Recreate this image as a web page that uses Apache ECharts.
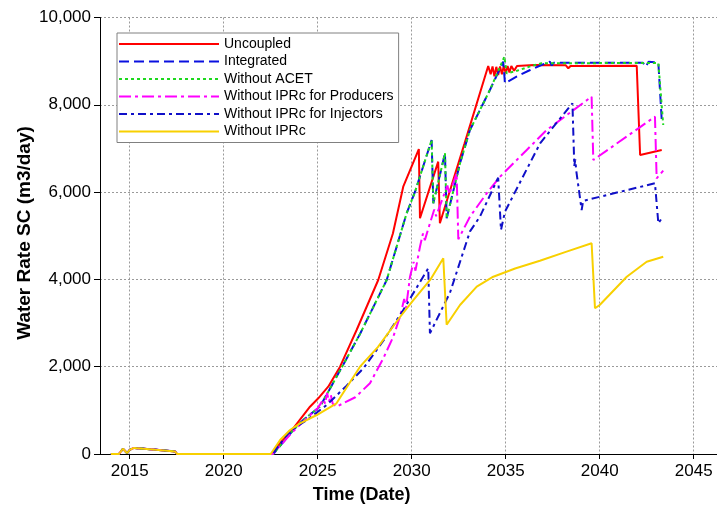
<!DOCTYPE html>
<html>
<head>
<meta charset="utf-8">
<script src="https://cdn.jsdelivr.net/npm/echarts@6/dist/echarts.min.js"></script>
<style>html,body{margin:0;padding:0;background:#fff}#c{width:717px;height:507px}</style>
</head>
<body>
<div id="c"></div>
<script>
// ---- data (years as decimal, water rate m3/day) ----
var seriesNames = ['Uncoupled','Integrated','Without ACET','Without IPRc for Producers','Without IPRc for Injectors','Without IPRc'];
var xTicks = [2015,2020,2025,2030,2035,2040,2045];
var yTicks = [0,2000,4000,6000,8000,10000];

var earlyT = [2014.0, 2014.43, 2014.64, 2014.86, 2015.02, 2015.23, 2016.08, 2017.41, 2017.52];
var earlyV = [0, 0, 120, 20, 100, 140, 110, 60, 0];

var uncoupledT = [2022.55, 2023.0, 2023.7, 2024.59, 2025.03, 2025.56, 2026.19, 2027.07, 2028.22, 2029.0, 2029.55, 2030.38, 2030.44, 2031.41, 2031.5, 2032.8, 2034.07, 2034.2, 2034.3, 2034.4, 2034.5, 2034.6, 2034.7, 2034.8, 2034.9, 2035.0, 2035.1, 2035.2, 2035.3, 2035.45, 2035.6, 2036.5, 2038.2, 2038.33, 2038.45, 2041.97, 2042.15, 2043.3];
var uncoupledV = [0, 250, 589, 1084, 1276, 1542, 2000, 2841, 3986, 5050, 6124, 6987, 5400, 6697, 5285, 7100, 8889, 8700, 8880, 8650, 8870, 8680, 8880, 8700, 8890, 8720, 8890, 8740, 8890, 8780, 8890, 8912, 8905, 8836, 8890, 8896, 6850, 6965];

var integratedT = [2022.64, 2023.7, 2024.23, 2025.12, 2026.3, 2027.25, 2028.67, 2029.73, 2030.18, 2031.06, 2031.15, 2031.77, 2031.86, 2032.57, 2033.1, 2034.16, 2034.87, 2034.96, 2035.6, 2036.3, 2036.9, 2037.35, 2037.45, 2037.55, 2042.3, 2042.45, 2042.6, 2043.12, 2043.3];
var integratedV = [0, 550, 779, 1084, 2000, 2750, 3986, 5514, 6009, 7194, 5743, 6889, 5400, 6660, 7423, 8339, 8988, 8493, 8650, 8797, 8912, 8990, 8900, 8965, 8965, 8873, 8988, 8965, 7652];

var acetT = [2022.64, 2023.7, 2024.23, 2025.12, 2026.3, 2027.25, 2028.67, 2029.73, 2030.18, 2031.06, 2031.15, 2031.77, 2031.86, 2032.57, 2033.1, 2034.16, 2034.93, 2035.05, 2035.6, 2036.3, 2036.9, 2043.12, 2043.38];
var acetV = [0, 550, 779, 1084, 2000, 2750, 3986, 5514, 6009, 7194, 5743, 6889, 5400, 6660, 7423, 8339, 9102, 8720, 8780, 8880, 8950, 8960, 7537];

var producersT = [2022.6, 2023.7, 2024.5, 2025.0, 2025.3, 2025.4, 2025.5, 2025.6, 2025.7, 2025.8, 2026.0, 2027.0, 2027.78, 2028.5, 2029.02, 2029.38, 2029.6, 2029.7, 2029.91, 2030.1, 2030.2, 2030.44, 2030.6, 2030.7, 2030.97, 2031.2, 2031.3, 2031.68, 2031.9, 2032.0, 2032.39, 2032.48, 2033.1, 2033.99, 2034.7, 2036.12, 2037.18, 2039.57, 2039.66, 2042.94, 2043.03, 2043.38];
var producersV = [0, 520, 850, 1050, 1250, 1150, 1400, 1200, 1350, 1150, 1084, 1300, 1620, 2200, 2687, 3150, 3550, 3350, 4062, 4400, 4200, 4749, 5050, 4900, 5285, 5600, 5450, 5895, 6150, 5950, 6430, 4920, 5437, 5972, 6353, 6965, 7423, 8186, 6735, 7728, 6315, 6490];

var injectorsT = [2022.6, 2023.5, 2024.5, 2025.5, 2026.5, 2027.43, 2028.5, 2029.55, 2030.88, 2030.97, 2032.04, 2033.1, 2033.63, 2034.6, 2034.75, 2034.96, 2036.83, 2038.55, 2038.65, 2038.7, 2038.75, 2039.04, 2039.12, 2042.94, 2043.12, 2043.3];
var injectorsV = [0, 520, 800, 1130, 1550, 1963, 2600, 3299, 4254, 2765, 3700, 5100, 5437, 6330, 5132, 5550, 7118, 8035, 6600, 6750, 6500, 5590, 5800, 6202, 5285, 5400];

var noIprcT = [2022.5, 2023.0, 2023.53, 2024.06, 2024.95, 2026.0, 2027.25, 2028.2, 2029.4, 2030.1, 2031.0, 2031.68, 2031.86, 2032.57, 2033.46, 2034.34, 2035.5, 2036.82, 2038.2, 2039.57, 2039.75, 2040.0, 2041.44, 2042.5, 2043.38];
var noIprcV = [0, 321, 550, 703, 893, 1161, 2000, 2450, 3150, 3530, 4000, 4483, 2960, 3414, 3833, 4062, 4250, 4426, 4630, 4827, 3338, 3414, 4062, 4406, 4520];

function pairs(t, v) {
  var T = earlyT.concat(t), V = earlyV.concat(v), out = [];
  for (var i = 0; i < T.length; i++) out.push([T[i], V[i]]);
  return out;
}

var FONT = 'Liberation Sans, Arial, sans-serif';
var styles = [
  {color:'#ff0000', type:'solid'},
  {color:'#0a10e0', type:[10,5]},
  {color:'#1ed81e', type:[3,3]},
  {color:'#ff00ff', type:[12,4,3,4]},
  {color:'#1010c8', type:[8,4,3,4]},
  {color:'#f8d000', type:'solid'}
];
var datasets = [
  pairs(uncoupledT, uncoupledV),
  pairs(integratedT, integratedV),
  pairs(acetT, acetV),
  pairs(producersT, producersV),
  pairs(injectorsT, injectorsV),
  pairs(noIprcT, noIprcV)
];

var chart = echarts.init(document.getElementById('c'), null, {renderer:'canvas'});
var series = seriesNames.map(function (n, i) {
  return {
    name: n, type: 'line', data: datasets[i], symbol: 'none', showSymbol: false,
    animation: false, z: 2 + i,
    lineStyle: {color: styles[i].color, width: 2, type: styles[i].type},
    itemStyle: {color: styles[i].color}
  };
});

chart.setOption({
  backgroundColor: '#fff',
  animation: false,
  grid: {left: 100, top: 17.5, right: 0, bottom: 53, containLabel: false},
  legend: {
    orient: 'vertical', left: 117, top: 33,
    itemWidth: 100, itemHeight: 14, itemGap: 3.5,
    padding: [4, 5, 4, 1],
    borderColor: '#808080', borderWidth: 1, backgroundColor: '#fff',
    itemStyle: {opacity: 0},
    textStyle: {fontFamily: FONT, fontSize: 14, color: '#000', lineHeight: 14},
    data: seriesNames
  },
  xAxis: {
    type: 'value', min: 2013.42, max: 2046.24,
    axisLine: {show: true, lineStyle: {color: '#000', width: 1}},
    axisTick: {show: true, length: 5, customValues: xTicks, lineStyle: {color: '#000'}},
    axisLabel: {customValues: xTicks, fontFamily: FONT, fontSize: 17, color: '#000', margin: 9,
      formatter: function (v) { return String(v); }},
    splitLine: {show: true, lineStyle: {color: '#9a9a9a', type: [2,2], width: 1}}
  },
  yAxis: {
    type: 'value', min: 0, max: 10000, interval: 2000,
    axisLine: {show: true, lineStyle: {color: '#000', width: 1}},
    axisTick: {show: true, length: 6, lineStyle: {color: '#000'}},
    axisLabel: {fontFamily: FONT, fontSize: 17, color: '#000', margin: 9,
      formatter: function (v) { return v.toLocaleString('en-US'); }},
    splitLine: {show: true, lineStyle: {color: '#9a9a9a', type: [2,2], width: 1}}
  },
  graphic: [
    {type: 'text', x: 24.5, y: 233, rotation: Math.PI / 2,
      style: {text: 'Water Rate SC (m3/day)', fontFamily: FONT, fontWeight: 'bold', fontSize: 19, fill: '#000', align: 'center', verticalAlign: 'middle'}},
    {type: 'text', x: 361.6, y: 495,
      style: {text: 'Time (Date)', fontFamily: FONT, fontWeight: 'bold', fontSize: 18, fill: '#000', align: 'center', verticalAlign: 'middle'}}
  ],
  series: series
});
</script>
</body>
</html>
